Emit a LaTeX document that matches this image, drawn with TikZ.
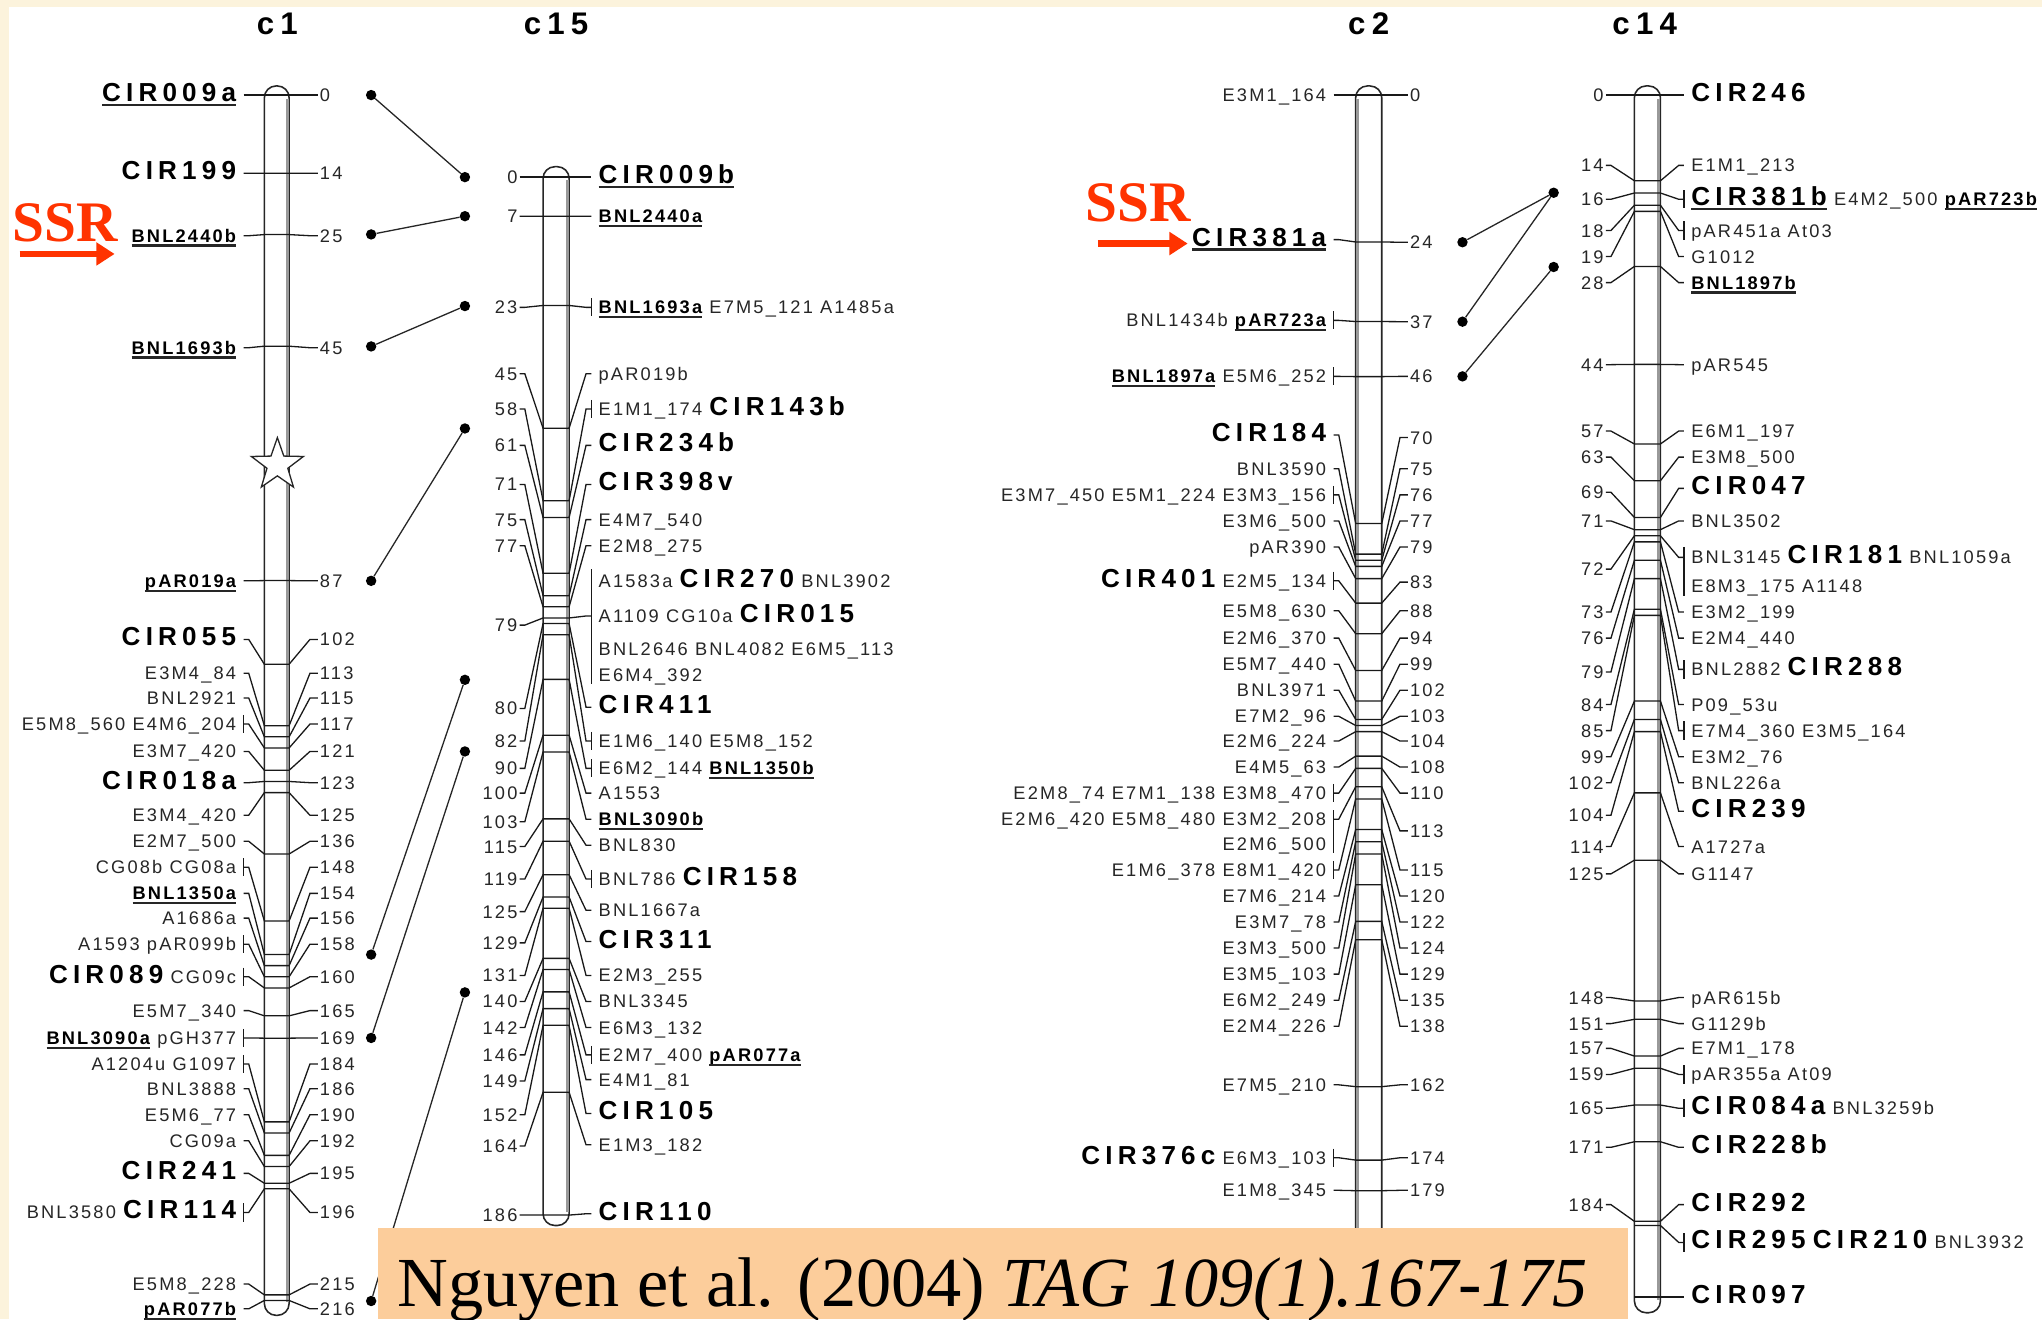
\documentclass[tikz,border=0pt]{standalone}
\usepackage{fontspec}
\setmainfont{Liberation Sans}
\newfontfamily\mapfont[LetterSpace=12]{Liberation Sans}
\newfontfamily\bigfont[LetterSpace=20]{Liberation Sans}
\newfontfamily\citefont{Liberation Serif}
\usetikzlibrary{shapes.geometric, arrows.meta}
\definecolor{cream}{RGB}{252,243,220}
\definecolor{peach}{RGB}{252,205,155}
\definecolor{ssrred}{RGB}{255,51,0}
\newsavebox\ulbox
\newcommand\mkul[1]{\sbox\ulbox{#1}\rlap{\usebox\ulbox}\rule[-3.5pt]{\wd\ulbox}{1.8pt}}
\newcommand\mkbig[1]{{\color{black}\bigfont\fontsize{20}{20}\selectfont\bfseries #1}}
\newcommand\mkulb[1]{\mkul{\color{black}\bfseries #1}}
\newcommand\mkbigul[1]{\mkul{\mkbig{#1}}}

\begin{document}
\begin{tikzpicture}[x=1pt, y=-1pt,
    lbl/.style={font=\mapfont\fontsize{14}{14}\selectfont, text=black!85, inner sep=1.5pt, text height=10pt, text depth=0pt},
    ttl/.style={font=\bigfont\fontsize{24}{24}\selectfont\bfseries},
    conn/.style={draw=black!90, line width=1pt},
    bar/.style={draw=black!85, line width=1.2pt, fill=white, rounded corners=9pt},
    shade/.style={draw=black!40, line width=2.4pt},
    dot/.style={circle, fill=black, inner sep=0pt, minimum size=8pt},
    link/.style={draw=black!85, line width=1pt},
    ssr/.style={font=\citefont\fontsize{44}{44}\selectfont\bfseries, text=ssrred},
    ssrarr/.style={draw=ssrred, line width=5pt, -{Triangle[length=14pt, width=17pt]}}
]
% page
\fill[cream] (0,0) rectangle (1568,1013);
\fill[white] (7,5) rectangle (1568,1013);
\useasboundingbox (0,0) rectangle (1568,1013);

% titles
\node[ttl] (t1) at (213,18) {c1};
\node[ttl] (t15) at (427,18) {c15};
\node[ttl] (t2) at (1051,18) {c2};
\node[ttl] (t14) at (1263,18) {c14};

% chromosome bars
\draw[bar] (203,66) rectangle (222,1010);
\draw[shade] (220.5,76) -- (220.5,1000);
\draw[bar] (417,128) rectangle (437,941);
\draw[shade] (435.5,138) -- (435.5,931);
\draw[bar] (1041,66) rectangle (1061,1010);
\draw[shade] (1042.5,76) -- (1042.5,1000);
\draw[bar] (1255,66) rectangle (1275,1008);
\draw[shade] (1273.5,76) -- (1273.5,998);

\node[star, star points=5, star point ratio=2.5, draw=black!85, fill=white, line width=1pt, minimum size=42pt, inner sep=0pt] (cen) at (213,357) {};

% c1
\foreach \cmv/\ly/\ny/\brk/\txt [count=\i] in {
    0/73/73/0/{\mkbigul{CIR009a}}, 14/133/133/0/{\mkbig{CIR199}},
    25/181/181/0/{\mkulb{BNL2440b}}, 45/267/267/0/{\mkulb{BNL1693b}},
    87/446/446/0/{\mkulb{pAR019a}}, 102/491/491/0/{\mkbig{CIR055}},
    113/517/517/0/{E3M4\_84}, 115/536/536/0/{BNL2921},
    117/556/556/1/{E5M8\_560 E4M6\_204}, 121/577/577/0/{E3M7\_420},
    123/601/601/0/{\mkbig{CIR018a}}, 125/626/626/0/{E3M4\_420},
    136/646/646/0/{E2M7\_500}, 148/666/666/1/{CG08b CG08a},
    154/686/686/0/{\mkulb{BNL1350a}}, 156/705/705/0/{A1686a},
    158/725/725/1/{A1593 pAR099b}, 160/750/750/1/{\mkbig{CIR089} CG09c},
    165/776/776/0/{E5M7\_340}, 169/797/797/1/{\mkulb{BNL3090a} pGH377},
    184/817/817/1/{A1204u G1097}, 186/836/836/0/{BNL3888},
    190/856/856/0/{E5M6\_77}, 192/876/876/0/{CG09a},
    195/901/901/0/{\mkbig{CIR241}}, 196/931/931/1/{BNL3580 \mkbig{CIR114}},
    215/986/986/0/{E5M8\_228}, 216/1005/1005/0/{\mkulb{pAR077b}}}{
  \pgfmathsetmacro\yb{73+4.285*\cmv}
  \node[lbl, anchor=east] (c1l\i) at (183,\ly) {\txt};
  \node[lbl, anchor=west] (c1n\i) at (244,\ny) {\cmv};
  \draw[conn] ([xshift=4pt]c1l\i.east) -- ++(4,0) -- (203,\yb) -- (222,\yb) -- (238,\ny) -- (c1n\i.west);
  \ifnum\brk=1 \draw[conn] ([xshift=4pt]c1l\i.east) ++(0,-7) -- ++(0,14); \fi
}

% c15
\foreach \cmv/\ly/\ny/\brk/\txt [count=\i] in {
    0/136/136/0/{\mkbigul{CIR009b}}, 7/166/166/0/{\mkulb{BNL2440a}},
    23/236/236/1/{\mkulb{BNL1693a} E7M5\_121 A1485a}, 45/287/287/0/{pAR019b},
    58/314/314/1/{E1M1\_174 \mkbig{CIR143b}}, 61/342/342/0/{\mkbig{CIR234b}},
    71/372/372/0/{\mkbig{CIR398v}}, 75/399/399/0/{E4M7\_540},
    77/419/419/0/{E2M8\_275}, 79/473/480/0/{A1109 CG10a \mkbig{CIR015}},
    80/543/544/0/{\mkbig{CIR411}}, 82/569/569/1/{E1M6\_140 E5M8\_152},
    90/590/590/1/{E6M2\_144 \mkulb{BNL1350b}}, 100/609/609/0/{A1553},
    103/629/631/0/{\mkulb{BNL3090b}}, 115/649/650/0/{BNL830},
    119/675/675/1/{BNL786 \mkbig{CIR158}}, 125/699/700/0/{BNL1667a},
    129/723/724/0/{\mkbig{CIR311}}, 131/749/749/0/{E2M3\_255},
    140/769/769/0/{BNL3345}, 142/789/789/0/{E6M3\_132},
    146/810/810/1/{E2M7\_400 \mkulb{pAR077a}}, 149/829/830/0/{E4M1\_81},
    152/855/856/0/{\mkbig{CIR105}}, 164/879/880/0/{E1M3\_182},
    186/932/933/0/{\mkbig{CIR110}}}{
  \pgfmathsetmacro\yb{136+4.285*\cmv}
  \node[lbl, anchor=east] (c15n\i) at (399,\ny) {\cmv};
  \node[lbl, anchor=west] (c15l\i) at (458,\ly) {\txt};
  \draw[conn] (c15n\i.east) -- ++(4,0) -- (417,\yb) -- (437,\yb) -- (450,\ly) -- ([xshift=-4pt]c15l\i.west);
  \ifnum\brk=1 \draw[conn] ([xshift=-4pt]c15l\i.west) ++(0,-7) -- ++(0,14); \fi
}
\node[lbl, anchor=west] (c15g1) at (458,446) {A1583a \mkbig{CIR270} BNL3902};
\node[lbl, anchor=west] (c15g2) at (458,498) {BNL2646 BNL4082 E6M5\_113};
\node[lbl, anchor=west] (c15g3) at (458,518) {E6M4\_392};
\draw[conn] (454,437) -- (454,525);

% c2
\foreach \cmv/\ly/\ny/\brk/\txt [count=\i] in {
    0/73/73/0/{E3M1\_164}, 24/184/186/0/{\mkbigul{CIR381a}},
    37/246/247/1/{BNL1434b \mkulb{pAR723a}}, 46/289/289/1/{\mkulb{BNL1897a} E5M6\_252},
    70/334/336/0/{\mkbig{CIR184}}, 75/360/360/0/{BNL3590},
    76/380/380/1/{E3M7\_450 E5M1\_224 E3M3\_156}, 77/400/400/0/{E3M6\_500},
    79/420/420/0/{pAR390}, 83/446/447/1/{\mkbig{CIR401} E2M5\_134},
    88/469/469/0/{E5M8\_630}, 94/490/490/0/{E2M6\_370},
    99/510/510/0/{E5M7\_440}, 102/530/530/0/{BNL3971},
    103/550/550/0/{E7M2\_96}, 104/569/569/0/{E2M6\_224},
    108/589/589/0/{E4M5\_63}, 110/609/609/1/{E2M8\_74 E7M1\_138 E3M8\_470},
    113/629/638/0/{E2M6\_420 E5M8\_480 E3M2\_208}, 115/668/668/1/{E1M6\_378 E8M1\_420},
    120/688/688/0/{E7M6\_214}, 122/708/708/0/{E3M7\_78},
    124/728/728/0/{E3M3\_500}, 129/748/748/0/{E3M5\_103},
    135/768/768/0/{E6M2\_249}, 138/788/788/0/{E2M4\_226},
    162/833/833/0/{E7M5\_210}, 174/889/889/1/{\mkbig{CIR376c} E6M3\_103},
    179/914/914/0/{E1M8\_345}}{
  \pgfmathsetmacro\yb{73+4.7*\cmv}
  \node[lbl, anchor=east] (c2l\i) at (1020,\ly) {\txt};
  \node[lbl, anchor=west] (c2n\i) at (1081,\ny) {\cmv};
  \draw[conn] ([xshift=4pt]c2l\i.east) -- ++(4,0) -- (1041,\yb) -- (1061,\yb) -- (1075,\ny) -- (c2n\i.west);
  \ifnum\brk=1 \draw[conn] ([xshift=4pt]c2l\i.east) ++(0,-7) -- ++(0,14); \fi
}
\node[lbl, anchor=east] (c2g1) at (1020,648) {E2M6\_500};
\draw[conn] (1024,622) -- (1024,655);

% c14
\foreach \cmv/\ly/\ny/\brk/\txt [count=\i] in {
    0/73/73/0/{\mkbig{CIR246}}, 14/127/127/0/{E1M1\_213},
    16/153/153/1/{\mkbigul{CIR381b} E4M2\_500 \mkulb{pAR723b}}, 18/177/177/1/{pAR451a At03},
    19/197/197/0/{G1012}, 28/217/217/0/{\mkulb{BNL1897b}},
    44/280/280/0/{pAR545}, 57/331/331/0/{E6M1\_197},
    63/351/351/0/{E3M8\_500}, 69/375/378/0/{\mkbig{CIR047}},
    71/400/400/0/{BNL3502}, 72/428/437/0/{BNL3145 \mkbig{CIR181} BNL1059a},
    73/470/470/0/{E3M2\_199}, 76/490/490/0/{E2M4\_440},
    79/514/516/1/{BNL2882 \mkbig{CIR288}}, 84/541/541/0/{P09\_53u},
    85/561/561/1/{E7M4\_360 E3M5\_164}, 99/581/581/0/{E3M2\_76},
    102/601/601/0/{BNL226a}, 104/623/626/0/{\mkbig{CIR239}},
    114/650/650/0/{A1727a}, 125/671/671/0/{G1147},
    148/766/766/0/{pAR615b}, 151/786/786/0/{G1129b},
    157/805/805/0/{E7M1\_178}, 159/825/825/1/{pAR355a At09},
    165/851/851/1/{\mkbig{CIR084a} BNL3259b}, 171/881/881/0/{\mkbig{CIR228b}},
    184/925/925/0/{\mkbig{CIR292}}}{
  \pgfmathsetmacro\yb{73+4.7*\cmv}
  \node[lbl, anchor=east] (c14n\i) at (1233,\ny) {\cmv};
  \node[lbl, anchor=west] (c14l\i) at (1297,\ly) {\txt};
  \draw[conn] (c14n\i.east) -- ++(4,0) -- (1255,\yb) -- (1275,\yb) -- (1289,\ly) -- ([xshift=-4pt]c14l\i.west);
  \ifnum\brk=1 \draw[conn] ([xshift=-4pt]c14l\i.west) ++(0,-7) -- ++(0,14); \fi
}
\node[lbl, anchor=west] (c14g1) at (1297,450) {E8M3\_175 A1148};
\draw[conn] (1293,420) -- (1293,458);
\node[lbl, anchor=west] (c14g2) at (1297,954) {\mkbig{CIR295} \mkbig{CIR210} BNL3932};
\draw[conn] (1255,941) -- (1275,941) -- (1289,954) -- ([xshift=-4pt]c14g2.west);
\draw[conn] ([xshift=-4pt]c14g2.west) ++(0,-7) -- ++(0,14);
\node[lbl, anchor=west] (c14g3) at (1297,996) {\mkbig{CIR097}};
\draw[conn] (1255,996) -- ([xshift=-4pt]c14g3.west);

% links c1 - c15
\foreach \ya/\yc [count=\k] in {73/136, 180/166, 266/235, 446/329, 733/522, 797/577, 999/762}{
  \node[dot] (pa\k) at (285,\ya) {};
  \node[dot] (pb\k) at (357,\yc) {};
  \draw[link] (pa\k) -- (pb\k);
}
% links c2 - c14
\node[dot] (ra1) at (1123,186) {};
\node[dot] (ra2) at (1123,247) {};
\node[dot] (ra3) at (1123,289) {};
\node[dot] (rb1) at (1193,148) {};
\node[dot] (rb2) at (1193,205) {};
\draw[link] (ra1) -- (rb1);
\draw[link] (ra2) -- (rb1);
\draw[link] (ra3) -- (rb2);

% SSR marks
\node[ssr] (ssr1) at (50,171) {SSR};
\coordinate (sa1) at (15,195);
\coordinate (sb1) at (88,195);
\draw[ssrarr] (sa1) -- (sb1);
\node[ssr] (ssr2) at (874,156) {SSR};
\coordinate (sa2) at (843,187);
\coordinate (sb2) at (912,187);
\draw[ssrarr] (sa2) -- (sb2);

% reference box
\fill[peach] (290,943) rectangle (1250,1013);
\node[anchor=base west, inner sep=0pt, font=\citefont\fontsize{54}{54}\selectfont] (cite) at (305,1003) {Nguyen et al. (2004) \textit{TAG 109(1).167-175}};
\end{tikzpicture}
\end{document}
